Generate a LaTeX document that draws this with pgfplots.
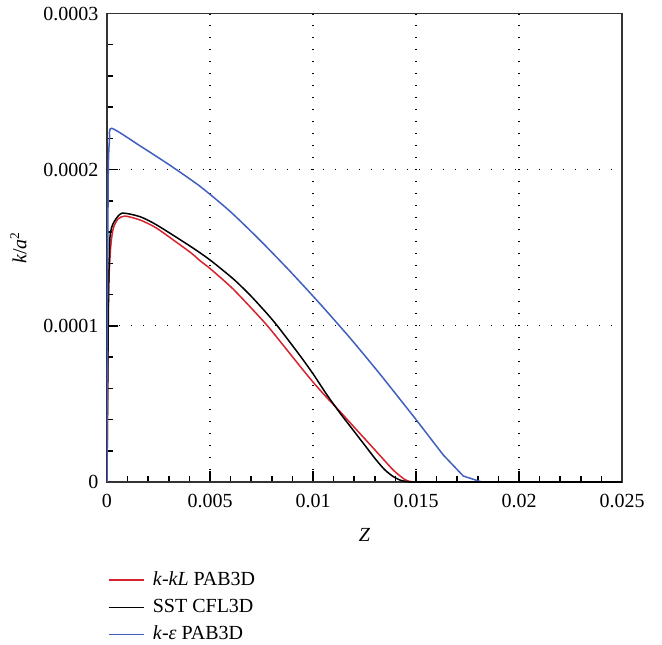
\documentclass[border=0pt]{standalone}
\usepackage{fontspec}
\setmainfont{Liberation Serif}
\usepackage{pgfplots}
\pgfplotsset{compat=1.18}
\definecolor{cred}{RGB}{215,35,45}
\definecolor{cblue}{RGB}{65,95,190}
\begin{document}
\fontsize{12}{14}\selectfont
\begin{tikzpicture}
\begin{axis}[
  name=ax,
  scale only axis,
  width=309pt, height=281.1pt,
  xmin=0, xmax=0.025, ymin=0, ymax=0.0003,
  xtick={0,0.005,0.01,0.015,0.02,0.025},
  xticklabels={0,0.005,0.01,0.015,0.02,0.025},
  ytick={0,0.0001,0.0002,0.0003},
  yticklabels={0,0.0001,0.0002,0.0003},
  scaled x ticks=false, scaled y ticks=false,
  minor x tick num=4, minor y tick num=4,
  xtick pos=bottom, ytick pos=left,
  tick align=inside,
  major tick length=6.4pt, minor tick length=3.6pt,
  tick style={black, line width=0.9pt},
  axis line style={black!80, line width=1pt},
  xmajorgrids, ymajorgrids,
  major grid style={black, line width=0.7pt, dash pattern=on 0.7pt off 6.5pt},
  xticklabel style={font=\fontsize{12}{14}\selectfont, yshift=-3pt},
  yticklabel style={font=\fontsize{12}{14}\selectfont, xshift=-1pt},
  xlabel={\textit{Z}},
  ylabel={\textit{k}/\textit{a}\textsuperscript{2}},
  xlabel style={at={(axis description cs:0.5,-0.113)}, anchor=center, font=\fontsize{12}{14}\selectfont},
  ylabel style={at={(axis description cs:-0.172,0.5)}, anchor=center, font=\fontsize{12}{14}\selectfont},
  legend cell align=left,
  legend image code/.code={\draw[#1] (0pt,0pt) -- (21pt,0pt);},
  legend style={draw=none, fill=none, inner sep=0pt, outer sep=0pt,
    at={(axis description cs:0,0)}, anchor=north west, xshift=0.6pt, yshift=-52.4pt,
    row sep=3.3pt, column sep=4pt,
    nodes={text height=8.5pt, text depth=2.5pt, inner sep=1pt},
    font=\fontsize{12}{14}\selectfont},
]
% k-kL PAB3D
\addplot[cred, line width=0.9pt, smooth, tension=0.4] coordinates {
(0,0) (3.4e-5,7.17e-5) (7.3e-5,1.229e-4) (1.80e-4,1.507e-4) (3.06e-4,1.625e-4)
(5.34e-4,1.684e-4) (8.74e-4,1.703e-4) (1.602e-3,1.678e-4) (2.413e-3,1.625e-4)
(4.029e-3,1.472e-4) (4.515e-3,1.417e-4) (5.0e-3,1.3671e-4) (6.131e-3,1.2346e-4)
(7.670e-3,1.0181e-4) (8.558e-3,8.753e-5) (9.369e-3,7.415e-5) (1.0015e-2,6.378e-5)
(1.0665e-2,5.411e-5) (1.1311e-2,4.514e-5) (1.1956e-2,3.573e-5) (1.2607e-2,2.632e-5)
(1.3252e-2,1.697e-5) (1.3898e-2,7.62e-6) (1.4418e-2,1.92e-6) (1.4660e-2,5.1e-7)
(1.4951e-2,0)
};
\addlegendentry{\textit{k}-\textit{kL} PAB3D}
% SST CFL3D
\addplot[black, line width=0.9pt, smooth, tension=0.4] coordinates {
(0,0) (4.9e-5,8.45e-5) (8.7e-5,1.293e-4) (1.46e-4,1.571e-4) (3.06e-4,1.657e-4)
(7.14e-4,1.721e-4) (1.602e-3,1.699e-4) (2.413e-3,1.646e-4) (4.029e-3,1.511e-4)
(5.0e-3,1.422e-4) (6.131e-3,1.3005e-4) (6.942e-3,1.1974e-4) (7.752e-3,1.0809e-4)
(8.287e-3,9.970e-5) (9.369e-3,8.094e-5) (1.0015e-2,6.903e-5) (1.0665e-2,5.603e-5)
(1.1311e-2,4.418e-5) (1.1956e-2,3.311e-5) (1.2607e-2,2.196e-5) (1.3068e-2,1.409e-5)
(1.3495e-2,7.68e-6) (1.3898e-2,3.46e-6) (1.4272e-2,1.02e-6) (1.4709e-2,0)
};
\addlegendentry{SST CFL3D}
% k-eps PAB3D
\addplot[cblue, line width=0.9pt, smooth, tension=0.4] coordinates {
(0,0) (2.4e-5,1.165e-4) (6.3e-5,1.998e-4) (1.21e-4,2.190e-4) (2.28e-4,2.265e-4)
(1.602e-3,2.1528e-4) (3.058e-3,2.0280e-4) (4.515e-3,1.8935e-4) (5.971e-3,1.7334e-4)
(7.427e-3,1.5483e-4) (8.884e-3,1.3498e-4) (1.0340e-2,1.1411e-4) (1.1796e-2,9.227e-5)
(1.3252e-2,6.909e-5) (1.5e-2,4.002e-5)
};
\addlegendentry{\textit{k}-\textit{ε} PAB3D}
\addplot[cblue, line width=0.9pt, forget plot] coordinates {
(1.5e-2,4.002e-5) (1.6325e-2,1.729e-5) (1.7296e-2,3.84e-6) (1.819e-2,0) (0.025,0)
};
\addplot[cred, line width=0.9pt, forget plot] coordinates {(1.4951e-2,0) (0.025,0)};
\addplot[black, line width=0.9pt, forget plot] coordinates {(1.4709e-2,0) (0.025,0)};
\end{axis}
\pgfresetboundingbox
\path ([xshift=-64.2pt, yshift=8.1pt]ax.north west) rectangle ([xshift=24pt, yshift=-97.2pt]ax.south east);
\end{tikzpicture}
\end{document}
